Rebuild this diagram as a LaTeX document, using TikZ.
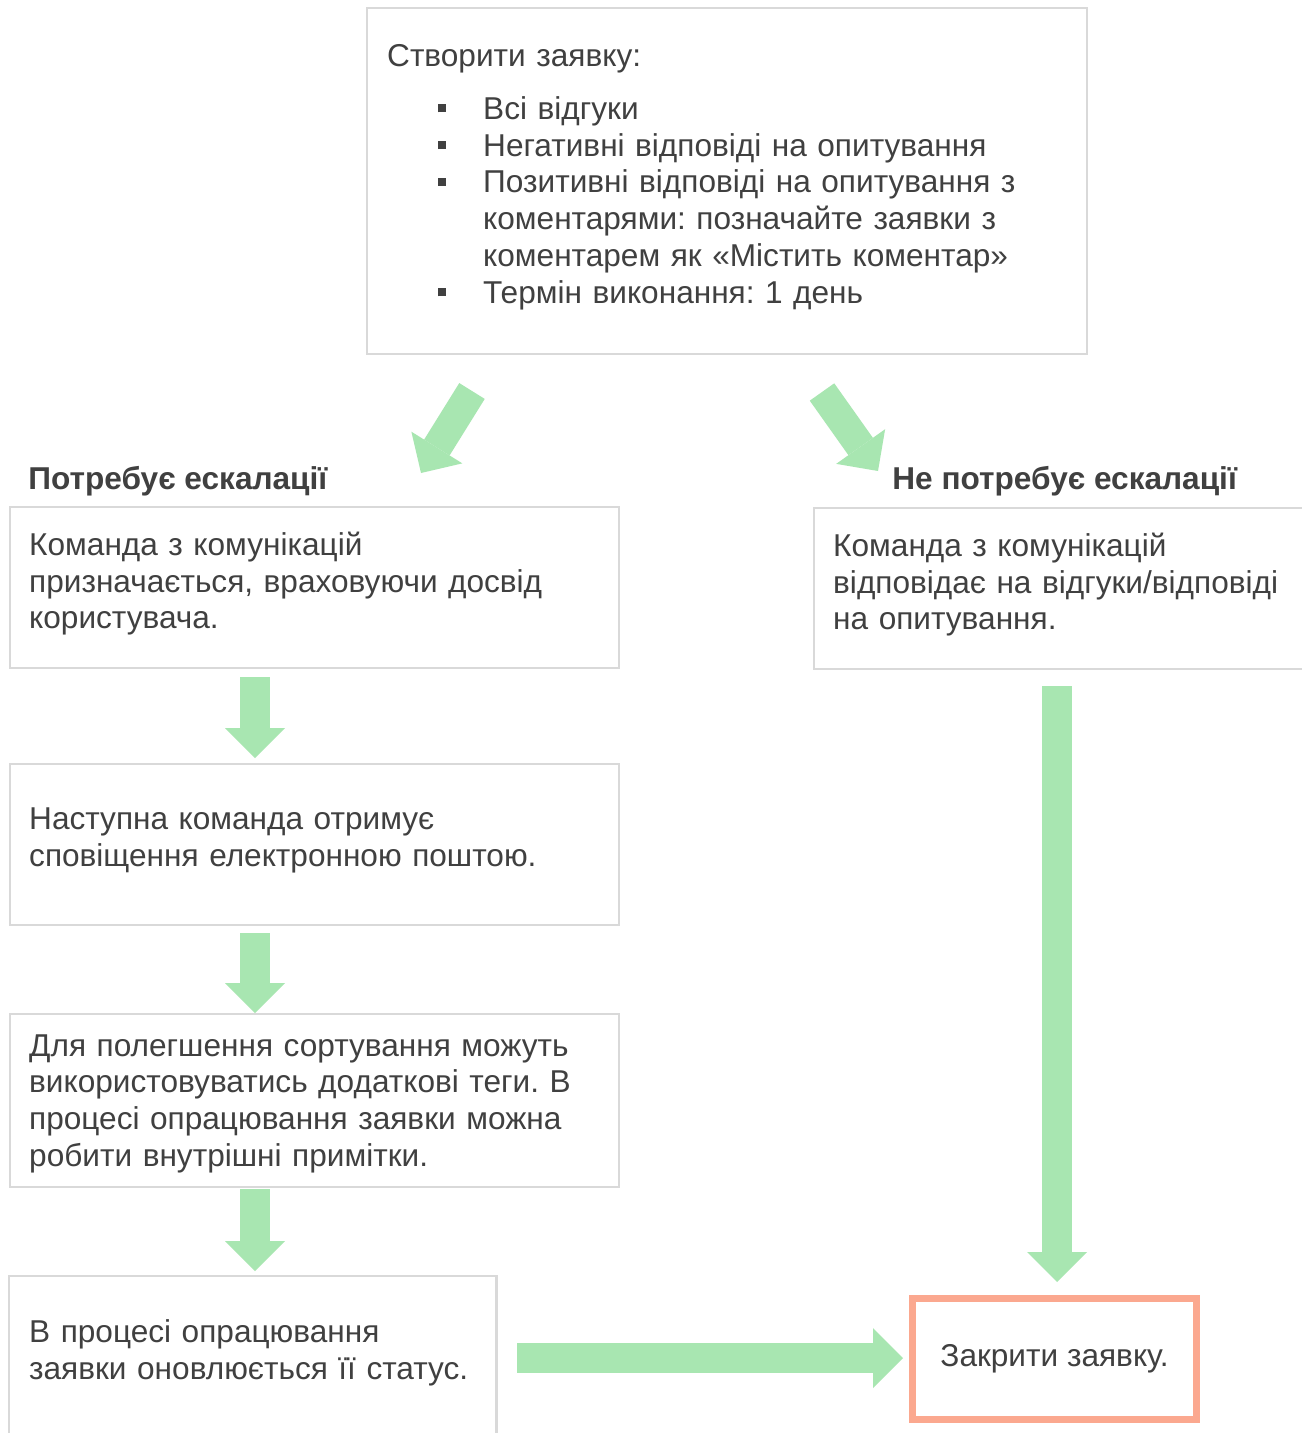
\documentclass[tikz,border=0pt]{standalone}
\usepackage{fontspec}
\setmainfont{Liberation Sans}
\usetikzlibrary{arrows.meta}
\frenchspacing

\definecolor{textgray}{HTML}{404040}
\definecolor{boxgray}{HTML}{D9D9D9}
\definecolor{flowgreen}{HTML}{A8E6B1}
\definecolor{closered}{HTML}{FBA88F}

\newcommand\itembullet{\hspace*{25.5pt}\rule[3.5pt]{4pt}{4pt}\hspace*{18.5pt}}
\newcommand\itemcont{\hspace*{48pt}}

\tikzset{
  stepbox/.style={draw=boxgray, line width=1.2pt, anchor=north west, align=left,
    inner xsep=9.5pt, text width=285.5pt, minimum height=80.5pt, text=textgray,
    font=\fontsize{15.8pt}{18.4pt}\selectfont},
  lift/.style={execute at end node={\par\vspace*{#1}}},
  branch/.style={anchor=west, inner sep=0pt, text=textgray,
    font=\fontsize{15.8pt}{18.4pt}\selectfont\bfseries},
  closebox/.style={draw=closered, line width=3.5pt, anchor=north west,
    minimum width=142pt, minimum height=60.5pt, text=textgray,
    font=\fontsize{15.8pt}{18.4pt}\selectfont},
  flow/.style={draw=flowgreen, line width=15pt,
    -{Triangle[width=30pt,length=15pt,line width=0pt]}},
}

\begin{document}
\begin{tikzpicture}[x=0.5pt,y=-0.5pt]
  \useasboundingbox (0,0) rectangle (1301,1433);
  \fill[white] (0,0) rectangle (1301,1433);

  % start
  \node[stepbox, lift=4pt, text width=340pt, inner xsep=10pt, minimum height=173pt] (create) at (366,7)
    {Створити заявку:\\[8pt]
     \itembullet Всі відгуки\\
     \itembullet Негативні відповіді на опитування\\
     \itembullet Позитивні відповіді на опитування з\\
     \itemcont коментарями: позначайте заявки з\\
     \itemcont коментарем як «Містить коментар»\\
     \itembullet Термін виконання: 1 день};

  % branches
  \node[branch] (esc) at (28,481) {Потребує ескалації};
  \node[branch] (noesc) at (892,481) {Не потребує ескалації};

  % left column
  \node[stepbox, lift=4pt] (assign) at (9,506)
    {Команда з комунікацій\\призначається, враховуючи досвід\\користувача.};
  \node[stepbox, lift=4pt] (notify) at (9,763)
    {Наступна команда отримує\\сповіщення електронною поштою.};
  \node[stepbox, lift=-3pt, minimum height=86.5pt] (tags) at (9,1013)
    {Для полегшення сортування можуть\\використовуватись додаткові теги. В\\процесі опрацювання заявки можна\\робити внутрішні примітки.};
  \node[stepbox, lift=-2pt, draw=none, text width=223.5pt, minimum height=74pt] (status) at (9,1276)
    {В процесі опрацювання\\заявки оновлюється її статус.};
  \draw[boxgray, line width=1.2pt] ([yshift=-20pt]status.south west) |- (status.north east)
    -- ([yshift=-20pt]status.south east);

  % right column
  \node[stepbox, lift=4pt, text width=300pt] (reply) at (813,507)
    {Команда з комунікацій\\відповідає на відгуки/відповіді\\на опитування.};
  \node[closebox] (close) at (909,1295) {Закрити заявку.};

  % arrows
  \coordinate (esc tail) at (472,391);
  \coordinate (esc tip) at (421,473);
  \coordinate (noesc tail) at (822,392);
  \coordinate (noesc tip) at (878,471);
  \coordinate (d1 tail) at (255,677);
  \coordinate (d1 tip) at (255,758);
  \coordinate (d2 tail) at (255,933);
  \coordinate (d2 tip) at (255,1013);
  \coordinate (d3 tail) at (255,1189);
  \coordinate (d3 tip) at (255,1271);
  \coordinate (r tail) at (1057,686);
  \coordinate (r tip) at (1057,1282);
  \coordinate (h tail) at (517,1358);
  \coordinate (h tip) at (903,1358);

  \draw[flow] (esc tail) -- (esc tip);
  \draw[flow] (noesc tail) -- (noesc tip);
  \draw[flow] (d1 tail) -- (d1 tip);
  \draw[flow] (d2 tail) -- (d2 tip);
  \draw[flow] (d3 tail) -- (d3 tip);
  \draw[flow] (r tail) -- (r tip);
  \draw[flow] (h tail) -- (h tip);
\end{tikzpicture}
\end{document}
